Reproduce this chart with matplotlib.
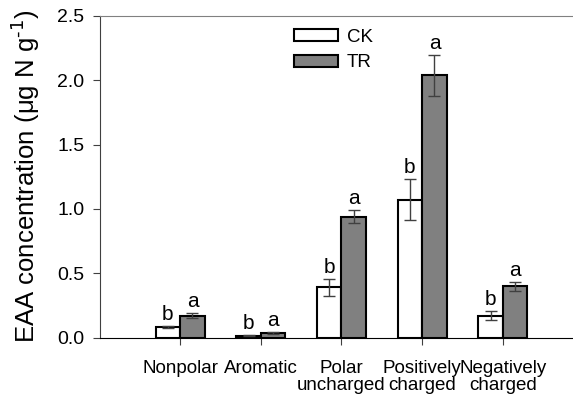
import matplotlib
matplotlib.use("Agg")
import matplotlib.pyplot as plt
import numpy as np

plt.rcParams['font.family'] = ['Liberation Sans', 'DejaVu Sans']

# data
categories = ["Nonpolar", "Aromatic", "Polar\nuncharged", "Positively\ncharged", "Negatively\ncharged"]
ck_mean = [0.08, 0.015, 0.39, 1.07, 0.17]
ck_err = [0.01, 0.005, 0.065, 0.16, 0.035]
tr_mean = [0.17, 0.035, 0.94, 2.04, 0.40]
tr_err = [0.02, 0.005, 0.05, 0.16, 0.035]
ck_letters = ["b", "b", "b", "b", "b"]
tr_letters = ["a", "a", "a", "a", "a"]

x = np.arange(1, len(categories) + 1)
w = 0.305

fig = plt.figure(figsize=(5.73, 3.98), dpi=100)
ax = fig.add_axes([99.5 / 573, 1 - 337.5 / 398, 1 - 99.5 / 573, 321.5 / 398])

err_kw = dict(ecolor="#404040", elinewidth=1.0, capsize=4.5, capthick=1.0)
ax.bar(x - w / 2, ck_mean, w, yerr=ck_err, color="white", edgecolor="black",
       linewidth=1.5, error_kw=err_kw, label="CK", zorder=2)
ax.bar(x + w / 2, tr_mean, w, yerr=tr_err, color="#808080", edgecolor="black",
       linewidth=1.5, error_kw=err_kw, label="TR", zorder=2)

# significance letters
for i in range(len(x)):
    ax.text(x[i] - w / 2, ck_mean[i] + ck_err[i] + 0.015, ck_letters[i],
            ha="center", va="bottom", fontsize=15)
    ax.text(x[i] + w / 2, tr_mean[i] + tr_err[i] + 0.015, tr_letters[i],
            ha="center", va="bottom", fontsize=15)

ax.set_xlim(0, 5.87)
ax.set_ylim(0, 2.5)
ax.set_yticks([0.0, 0.5, 1.0, 1.5, 2.0, 2.5])
ax.set_yticklabels(["0.0", "0.5", "1.0", "1.5", "2.0", "2.5"], fontsize=14)
ax.set_xticks(x)
ax.set_xticklabels(categories, fontsize=13.5, linespacing=1.0)
ax.tick_params(axis="x", length=5, pad=11, color="#404040")
ax.tick_params(axis="y", length=5, pad=6, color="#404040")

ax.set_ylabel("EAA concentration (μg N g$^{\\text{-1}}$)", fontsize=18.5, labelpad=11)

ax.spines["right"].set_visible(False)
ax.spines["top"].set_color("#808080")
ax.spines["left"].set_color("#404040")
ax.spines["bottom"].set_color("black")

ax.legend(loc="upper left", bbox_to_anchor=(0.386, 0.995), frameon=False,
          fontsize=13.5, handlelength=2.35, handleheight=0.58, labelspacing=0.45,
          handletextpad=0.5, borderaxespad=0.2)

fig.savefig("out.png", dpi=100)
